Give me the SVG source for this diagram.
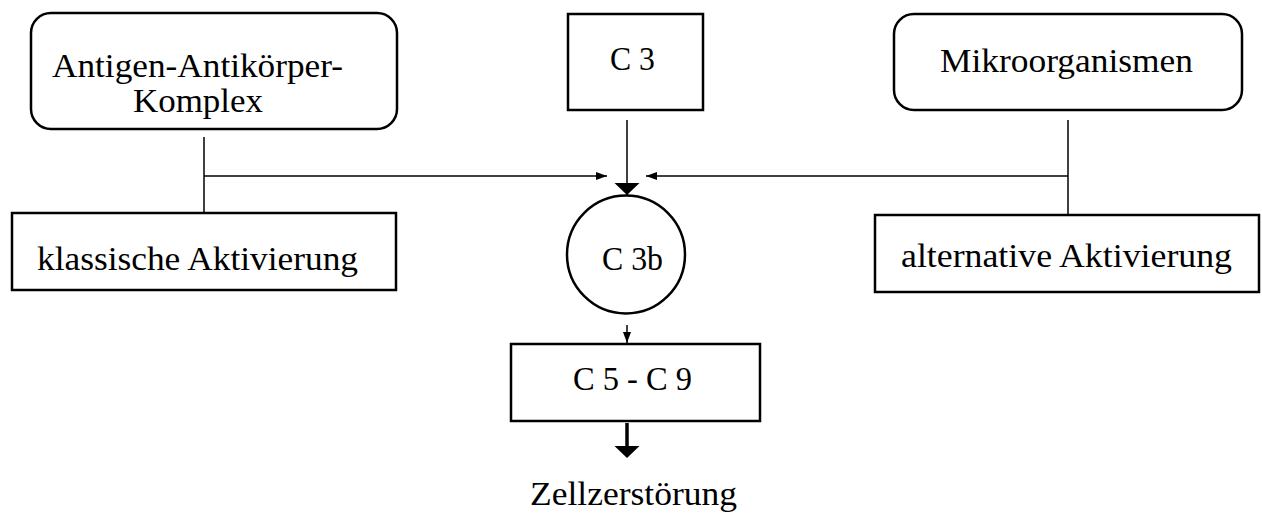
<svg xmlns="http://www.w3.org/2000/svg" width="1262" height="515" viewBox="0 0 1262 515">
  <style>
    .box { fill: #fff; stroke: #000; stroke-width: 2.5; }
    .line { fill: none; stroke: #000; stroke-width: 1.5; }
    .label { font-family: "Liberation Serif", "Times New Roman", serif; font-size: 33px; fill: #000; }
  </style>
  <defs>
    <marker id="small" markerUnits="userSpaceOnUse" markerWidth="12" markerHeight="10" refX="11" refY="5" orient="auto">
      <path d="M0,1 L11,5 L0,9 Z" fill="#000"/>
    </marker>
    <marker id="big" markerUnits="userSpaceOnUse" markerWidth="14" markerHeight="26" refX="12" refY="13" orient="auto">
      <path d="M0,0.5 L12,13 L0,25.5 Z" fill="#000"/>
    </marker>
  </defs>

  <rect width="1262" height="515" fill="#fff"/>

  <g id="connectors">
    <!-- left branch -->
    <line class="line" x1="204" y1="137" x2="204" y2="213"/>
    <line class="line" x1="204" y1="176" x2="607" y2="176" marker-end="url(#small)"/>
    <!-- right branch -->
    <line class="line" x1="1068" y1="120" x2="1068" y2="215"/>
    <line class="line" x1="1068" y1="176" x2="646" y2="176" marker-end="url(#small)"/>
    <!-- C 3 to C 3b -->
    <line class="line" x1="627" y1="120" x2="627" y2="195" marker-end="url(#big)"/>
    <!-- C 3b to C 5 - C 9 -->
    <line class="line" x1="627" y1="325" x2="627" y2="343" marker-end="url(#small)"/>
    <!-- C 5 - C 9 to cell destruction -->
    <line x1="627" y1="423" x2="627" y2="449" stroke="#000" stroke-width="3.5"/>
    <path d="M614.5,446 L639.5,446 L627,458 Z" fill="#000"/>
  </g>

  <g id="antigen-antikoerper">
    <rect class="box" x="31" y="13" width="366" height="116" rx="20"/>
    <text class="label" x="52" y="77" textLength="291" lengthAdjust="spacingAndGlyphs">Antigen-Antikörper-</text>
    <text class="label" x="133" y="112" textLength="130" lengthAdjust="spacingAndGlyphs">Komplex</text>
  </g>

  <g id="c3">
    <rect class="box" x="568" y="14" width="135" height="96"/>
    <text class="label" x="610" y="70" textLength="45" lengthAdjust="spacingAndGlyphs">C 3</text>
  </g>

  <g id="mikroorganismen">
    <rect class="box" x="894" y="14" width="348" height="96" rx="20"/>
    <text class="label" x="940" y="72" textLength="253" lengthAdjust="spacingAndGlyphs">Mikroorganismen</text>
  </g>

  <g id="klassische-aktivierung">
    <rect class="box" x="12" y="213" width="384" height="77"/>
    <text class="label" x="37" y="270" textLength="321" lengthAdjust="spacingAndGlyphs">klassische Aktivierung</text>
  </g>

  <g id="alternative-aktivierung">
    <rect class="box" x="875" y="215" width="384" height="77"/>
    <text class="label" x="901" y="267" textLength="331" lengthAdjust="spacingAndGlyphs">alternative Aktivierung</text>
  </g>

  <g id="c3b">
    <circle class="box" cx="626" cy="254.5" r="59" stroke-width="2"/>
    <text class="label" x="602" y="270" textLength="61" lengthAdjust="spacingAndGlyphs">C 3b</text>
  </g>

  <g id="c5-c9">
    <rect class="box" x="511" y="344" width="249" height="77"/>
    <text class="label" x="573" y="390" textLength="119" lengthAdjust="spacingAndGlyphs">C 5 - C 9</text>
  </g>

  <g id="zellzerstoerung">
    <text class="label" x="530" y="505" textLength="207" lengthAdjust="spacingAndGlyphs">Zellzerstörung</text>
  </g>
</svg>
